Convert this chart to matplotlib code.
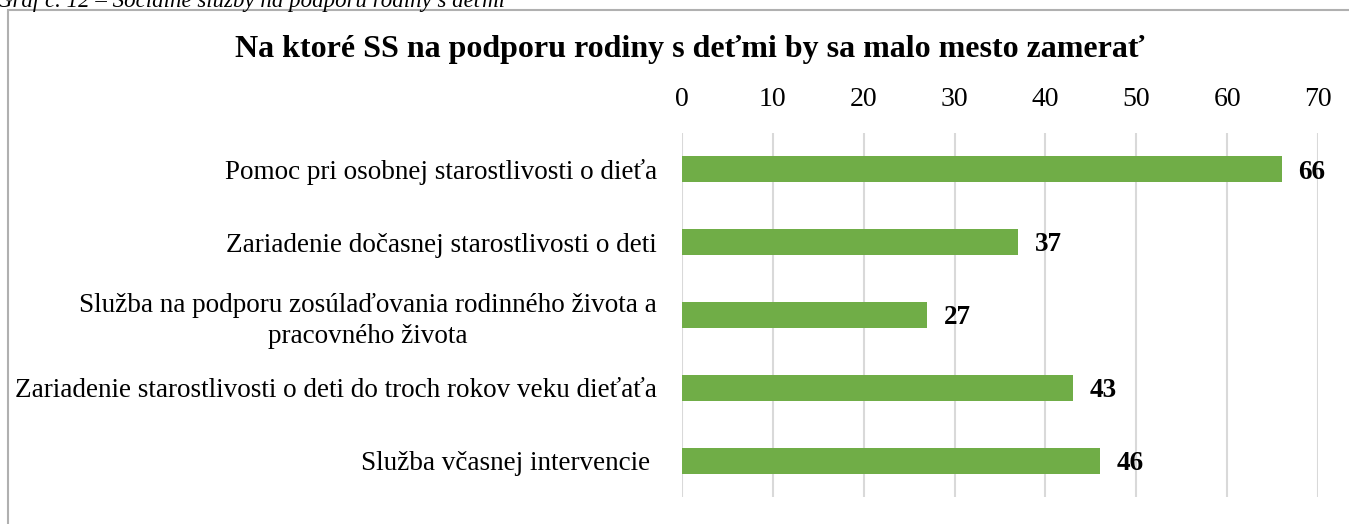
import matplotlib
matplotlib.use("Agg")
import matplotlib.pyplot as plt
from matplotlib.patches import Rectangle

categories = [
    "Pomoc pri osobnej starostlivosti o dieťa",
    "Zariadenie dočasnej starostlivosti o deti",
    "Služba na podporu zosúlaďovania rodinného života a\npracovného života",
    "Zariadenie starostlivosti o deti do troch rokov veku dieťaťa",
    "Služba včasnej intervencie ",
]
values = [66, 37, 27, 43, 46]
xticks = [0, 10, 20, 30, 40, 50, 60, 70]
title = "Na ktoré SS na podporu rodiny s deťmi by sa malo mesto zamerať"
caption = "Graf č. 12 – Sociálne služby na podporu rodiny s deťmi"

plt.rcParams['font.family'] = ['Liberation Serif', 'DejaVu Serif']

W, H = 1349, 524
fig = plt.figure(figsize=(W / 100, H / 100), dpi=100)

x0, x1 = 682, 1318
y_top, y_bot = 133, 497
ax = fig.add_axes([x0 / W, 1 - y_bot / H, (x1 - x0) / W, (y_bot - y_top) / H])

ypos = list(range(len(categories)))
ax.barh(ypos, values, height=0.355, color="#70ad47", zorder=3)
ax.set_xlim(0, 70)
ax.set_ylim(len(categories) - 0.5, -0.5)
ax.set_xticks(xticks)
ax.set_xticklabels([str(t) for t in xticks])
ax.xaxis.tick_top()
ax.tick_params(axis="x", length=0, pad=15, labelsize=20)
ax.set_yticks(ypos)
ax.set_yticklabels(categories, fontsize=19.5, multialignment="center", linespacing=1.3)
ax.tick_params(axis="y", length=0, pad=18)
ax.grid(axis="x", color="#d9d9d9", linewidth=1.5, zorder=0)
for s in ax.spines.values():
    s.set_visible(False)

for y, v in zip(ypos, values):
    ax.annotate(str(v), (v, y), xytext=(12, -2), textcoords="offset points",
                ha="left", va="center", fontsize=19.5, fontweight="bold")

fig.patches.append(Rectangle((8 / W, -0.1), 1.2, 1 - 10 / H + 0.1, transform=fig.transFigure,
                             fill=False, edgecolor="#b0b0b0", linewidth=1.5))

fig.text(690 / W, 1 - 49 / H, title, ha="center", va="center", fontsize=23, fontweight="bold")
fig.text(-4 / W, 1 - 7 / H, caption, ha="left", va="baseline", fontsize=16.5, style="italic")

fig.savefig("out.png", dpi=100)
